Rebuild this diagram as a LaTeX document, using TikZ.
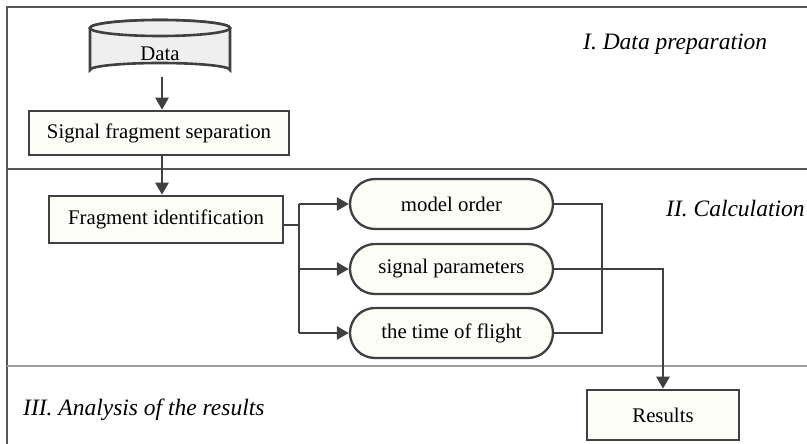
\documentclass[tikz,border=0pt]{standalone}
\usepackage{fontspec}
\setmainfont{Liberation Serif}
\usetikzlibrary{arrows.meta,positioning}
\definecolor{linegray}{HTML}{404040}
\definecolor{framegray}{HTML}{555555}
\definecolor{boxfill}{HTML}{FDFDF8}
\definecolor{dbfill}{HTML}{EFEFEF}
\tikzset{
  every node/.style={font=\fontsize{20.8}{24}\selectfont},
  procbox/.style={draw=linegray, line width=2.6pt, fill=boxfill, inner sep=0pt},
  termbox/.style={draw=linegray, line width=2.3pt, fill=boxfill, rounded corners=25pt,
    minimum width=203pt, minimum height=50pt, inner sep=0pt},
  flow/.style={draw=linegray, line width=2.6pt, -{Triangle[length=12pt,width=13pt]}},
  link/.style={draw=linegray, line width=2.6pt},
  sectline/.style={draw=framegray, line width=1.5pt},
  phase/.style={font=\fontsize{23.5}{27}\selectfont\itshape, anchor=west, inner sep=0pt}
}
\begin{document}
\begin{tikzpicture}[x=1pt,y=-1pt]
\useasboundingbox (0,0) rectangle (807,444);

% frame and section separators
\draw[sectline] (807,7) -- (7,7) -- (7,444);
\draw[sectline] (7,169) -- (807,169);
\draw[draw=gray!75, line width=1.8pt] (7,366) -- (807,366);

% phase titles
\node[phase] (p1) at (583,44) {I. Data preparation};
\node[phase] (p2) at (666,209) {II. Calculation};
\node[phase] (p3) at (23,410) {III. Analysis of the results};

% data store (cylinder)
\filldraw[draw=linegray, line width=2.6pt, fill=dbfill]
  (90,28) -- (90,70) arc[start angle=180, end angle=360, x radius=70, y radius=7]
  -- (230,28) arc[start angle=0, end angle=-180, x radius=70, y radius=8] -- cycle;
\filldraw[draw=linegray, line width=2.6pt, fill=dbfill]
  (160,28) ellipse[x radius=70, y radius=8];
\node (data) at (160,54) {Data};
\coordinate (databot) at (162,77);

% process boxes
\node[procbox, minimum width=260pt, minimum height=44pt] (sep) at (159,133) {Signal fragment separation};
\node[procbox, minimum width=234pt, minimum height=47pt] (frag) at (166,219.5) {Fragment identification};
\node[procbox, minimum width=152pt, minimum height=50pt] (res) at (663,415) {Results};

% calculated quantities
\node[termbox] (mo) at (451.5,204) {model order};
\node[termbox] (sp) at (451.5,269) {signal parameters};
\node[termbox] (tf) at (451.5,333) {the time of flight};

% connectors
\draw[flow] (databot) -- (sep.north -| databot);
\draw[flow] (sep.south -| 162,0) -- (frag.north -| 162,0);
\draw[link] (frag.east |- 0,225) -- (299,225) coordinate (br);
\draw[link] (br |- mo.west) -- (br |- tf.west);
\draw[flow] (br |- mo.west) -- (mo.west);
\draw[flow] (br |- sp.west) -- (sp.west);
\draw[flow] (br |- tf.west) -- (tf.west);
\draw[link] (mo.east) -- (602,0 |- mo.east) -- (602,0 |- tf.east) -- (tf.east);
\draw[flow] (sp.east) -| (res.north);
\end{tikzpicture}
\end{document}
